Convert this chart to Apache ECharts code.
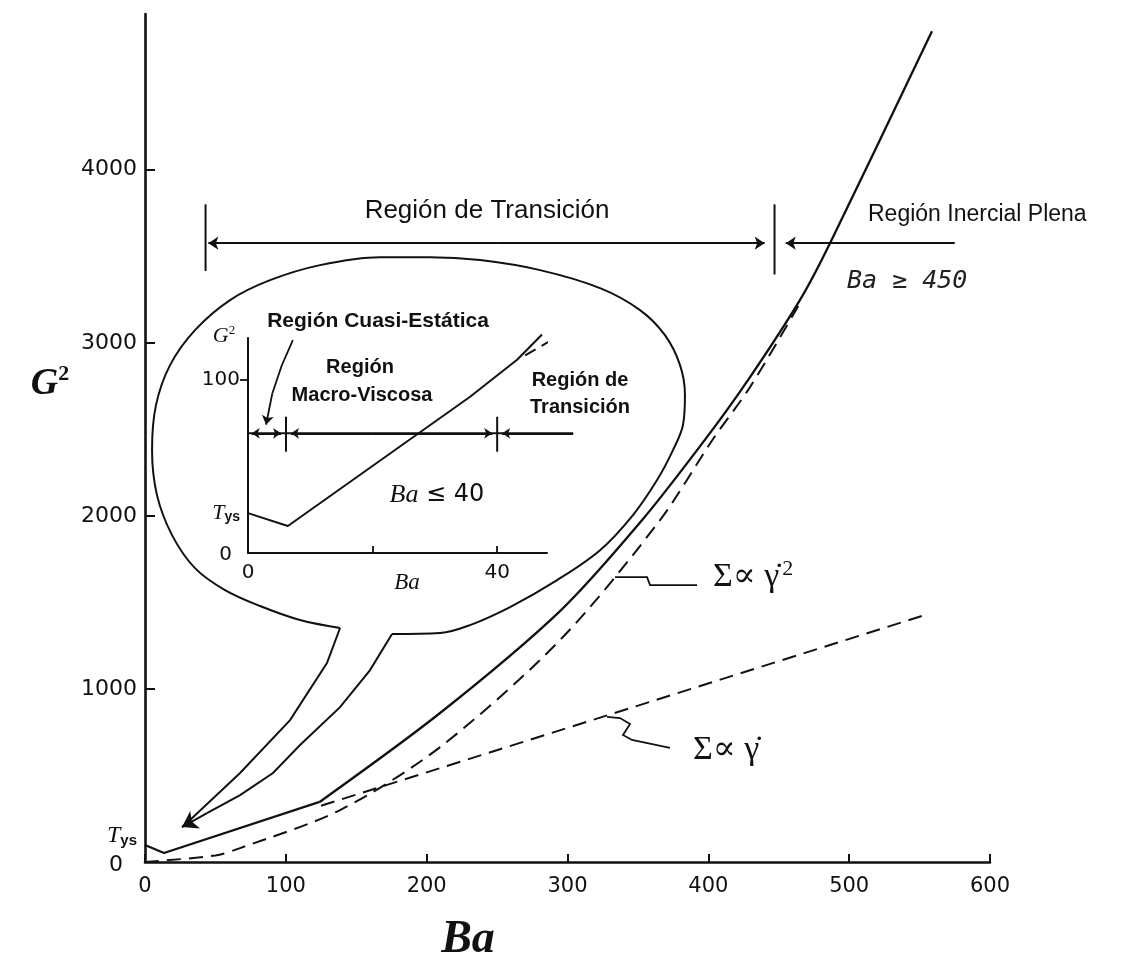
<!DOCTYPE html>
<html><head><meta charset="utf-8">
<script src="https://cdn.jsdelivr.net/npm/echarts@6/dist/echarts.min.js"></script>
<style>html,body{margin:0;padding:0;background:#fff}#c{width:1135px;height:968px}</style>
</head><body><div id="c"></div>
<script>
// ---------- main axes ----------
const xTickValues = [0, 100, 200, 300, 400, 500, 600];
const yTickValues = [1000, 2000, 3000, 4000];
const yLabelValues = [0, 150, 1000, 2000, 3000, 4000];   // 150 = position of the "Tys" label
// ---------- main curves (Ba, G²) ----------
const curveG2Start = [[0,98],[13.5,52],[124,347]];
const curveG2 = [[124,347],[209.5,861],[294.7,1450],[353,1976],[399,2455],[429.6,2802],[465,3247],[486.4,3576],[558.8,4801]];
const curveQuadratic = [[0,0],[50,38],[67.5,80],[138.5,300],[209.5,664],[295,1285],[365.7,1976],[403,2440],[429.6,2744],[465,3229]];
const curveLinear = [[125,325],[555,1430]];
// ---------- main region bar ----------
const regionY = 3576;
const regionArrows = [
  [[250,regionY],[45,regionY]],
  [[250,regionY],[440,regionY]],
  [[575,regionY],[455,regionY]]
];
const regionBarLeft = [[43,3800],[43,3415]];
const regionBarMid = [[447,3800],[447,3395]];
// ---------- speech bubble (Ba, G²) ----------
const bubbleBody = [[138.5,1352],[110.1,1398],[81.7,1479],[56.8,1571],[35.5,1698],[19.2,1889],[8.5,2120],[5.0,2380],[7.8,2640],[17.8,2871],[35.5,3073],[60.4,3247],[88.8,3362],[124.3,3449],[166.9,3495],[202.4,3495],[237.9,3478],[280.5,3420],[323.1,3316],[351.5,3189],[369.2,3044],[379.9,2871],[383.4,2698],[382.0,2525],[374.9,2380],[363.6,2207],[346.5,2005],[323.1,1802],[292.6,1629],[259.2,1473],[230.8,1369],[209.5,1323],[175.4,1317]];
const bubbleTailLeft = [[138.5,1352],[129.2,1150],[103.0,820],[67.5,514],[32.0,243],[26.3,202]];
const bubbleTailRight = [[175.4,1317],[159.8,1109],[138.5,895],[110.1,676],[90.9,514],[67.5,387],[44.0,283]];
const bubbleTip = [[44.0,283],[26.3,202]];
// ---------- leader lines for the Σ labels ----------
const leaderQuadratic = [[333.7,1646],[356.5,1646],[358.6,1600],[392.0,1600]];
const leaderLinear = [[328.1,838],[337.3,832],[344.4,797],[339.4,734],[345.8,705],[372.8,659]];
// ---------- inset (Ba 0–48, G² 0–124) ----------
const insetXLabels = [0, 40];
const insetXTicks = [20, 40];
const insetYLabels = [0, 23, 100];  // 23 = Tys
const insetYTicks = [100];
const insetCurve = [[0,23],[6.4,15.6],[35.6,90],[43.2,111.5],[47.2,126]];
const insetDashed = [[44.5,114],[55,136]];
const insetRegionY = 69;
const insetRegionLine = [[0,insetRegionY],[52.2,insetRegionY]];
const insetBar1 = [[6.1,58.4],[6.1,78.6]];
const insetBar2 = [[40,58.4],[40,78.6]];
const insetArrows = [
  [[3,insetRegionY],[0.6,insetRegionY]],
  [[3,insetRegionY],[5.3,insetRegionY]],
  [[20,insetRegionY],[6.9,insetRegionY]],
  [[20,insetRegionY],[39.2,insetRegionY]],
  [[52.2,insetRegionY],[40.8,insetRegionY]]
];
const insetLabelCurve = [[7.2,122.8],[5.4,108],[3.9,92]];
const insetLabelTip = [[3.9,92],[2.9,74]];

const INK = '#111';
const chart = echarts.init(document.getElementById('c'), null, {renderer:'canvas'});

function poly(coords, gi, w) {
  return {
    type:'lines', coordinateSystem:'cartesian2d', xAxisIndex:gi, yAxisIndex:gi,
    polyline:true, clip:false, silent:true, z:5, symbol:'none',
    lineStyle:{color:INK, width:w || 1.8, opacity:1, curveness:0},
    data:[{coords:coords}]
  };
}
function arrows(list, gi, w, size) {
  return {
    type:'lines', coordinateSystem:'cartesian2d', xAxisIndex:gi, yAxisIndex:gi,
    polyline:false, clip:false, silent:true, z:6,
    symbol:['none','arrow'], symbolSize:size || 10,
    lineStyle:{color:INK, width:w || 1.8, opacity:1, curveness:0},
    itemStyle:{color:INK},
    data:list.map(function(c){ return {coords:c}; })
  };
}
function line(data, gi, opts) {
  return Object.assign({
    type:'line', xAxisIndex:gi, yAxisIndex:gi, data:data, symbol:'none', showSymbol:false,
    clip:false, silent:true, z:4, animation:false,
    lineStyle:{color:INK, width:2, type:'solid'}
  }, opts || {});
}

const option = {
  animation:false,
  backgroundColor:'#fff',
  grid:[
    {left:145, top:14, width:845, height:848},
    {left:248, top:338, width:299, height:215}
  ],
  xAxis:[
    {gridIndex:0, type:'value', min:0, max:600, interval:100,
     axisLine:{show:true, lineStyle:{color:INK, width:2.6}},
     axisTick:{show:true, inside:true, length:8, customValues:xTickValues, lineStyle:{color:INK, width:2}},
     axisLabel:{show:true, margin:14, color:INK, fontFamily:'DejaVu Sans', fontSize:21, customValues:xTickValues},
     splitLine:{show:false}},
    {gridIndex:1, type:'value', min:0, max:48,
     axisLine:{show:true, lineStyle:{color:INK, width:2}},
     axisTick:{show:true, inside:true, length:7, customValues:insetXTicks, lineStyle:{color:INK, width:1.8}},
     axisLabel:{show:true, margin:10, color:INK, fontFamily:'DejaVu Sans', fontSize:20, customValues:insetXLabels},
     splitLine:{show:false}}
  ],
  yAxis:[
    {gridIndex:0, type:'value', min:0, max:4900,
     axisLine:{show:true, lineStyle:{color:INK, width:2.6}},
     axisTick:{show:true, inside:true, length:10, customValues:yTickValues, lineStyle:{color:INK, width:2}},
     axisLabel:{show:true, margin:8, color:INK, fontFamily:'DejaVu Sans', fontSize:22, customValues:yLabelValues,
       formatter:function(v){ if(v===150) return '{t|T}{s|ys}'; if(v===0) return '{z|0}'; return String(v); },
       rich:{
         t:{fontFamily:'Liberation Serif', fontStyle:'italic', fontSize:24, color:INK},
         s:{fontFamily:'Liberation Sans', fontWeight:'bold', fontSize:15, color:INK, verticalAlign:'bottom', padding:[8,0,0,0]},
         z:{fontFamily:'DejaVu Sans', fontSize:22, color:INK, padding:[6,14,0,0]}
       }},
     splitLine:{show:false}},
    {gridIndex:1, type:'value', min:0, max:124,
     axisLine:{show:true, lineStyle:{color:INK, width:2}},
     axisTick:{show:true, inside:false, length:8, customValues:insetYTicks, lineStyle:{color:INK, width:1.8}},
     axisLabel:{show:true, margin:8, color:INK, fontFamily:'DejaVu Sans', fontSize:20, customValues:insetYLabels,
       formatter:function(v){ if(v===23) return '{t|T}{s|ys}'; if(v===0) return '{z|0}'; return String(v); },
       rich:{
         t:{fontFamily:'Liberation Serif', fontStyle:'italic', fontSize:22, color:INK},
         s:{fontFamily:'Liberation Sans', fontWeight:'bold', fontSize:14, color:INK, verticalAlign:'bottom', padding:[8,0,0,0]},
         z:{fontFamily:'DejaVu Sans', fontSize:20, color:INK, padding:[4,8,0,0]}
       }},
     splitLine:{show:false}}
  ],
  series:[
    line(curveG2Start, 0, {lineStyle:{color:INK, width:2.3}}),
    line(curveG2, 0, {smooth:0.3, lineStyle:{color:INK, width:2.3}}),
    line(curveQuadratic, 0, {smooth:0.3, lineStyle:{color:INK, width:2, type:[14,8]}}),
    line(curveLinear, 0, {lineStyle:{color:INK, width:2, type:[14,8]}}),
    line(bubbleBody, 0, {smooth:0.35, lineStyle:{color:INK, width:2}}),
    poly(bubbleTailLeft, 0, 2),
    poly(bubbleTailRight, 0, 2),
    arrows([bubbleTip], 0, 2, 15),
    poly(leaderQuadratic, 0, 1.8),
    poly(leaderLinear, 0, 1.8),
    arrows(regionArrows, 0, 2, 10),
    poly(regionBarLeft, 0, 2),
    poly(regionBarMid, 0, 2),
    line(insetCurve, 1, {lineStyle:{color:INK, width:2}}),
    line(insetDashed, 1, {lineStyle:{color:INK, width:2, type:[12,7]}}),
    poly(insetRegionLine, 1, 2),
    poly(insetBar1, 1, 2),
    poly(insetBar2, 1, 2),
    arrows(insetArrows, 1, 2, 8),
    poly(insetLabelCurve, 1, 1.8),
    arrows([insetLabelTip], 1, 1.8, 9)
  ],
  graphic:[
    {type:'text', x:50, y:384, style:{text:'{g|G}{s|2}', fill:INK, align:'center', verticalAlign:'middle', textAlign:'center', textVerticalAlign:'middle',
      rich:{g:{fontFamily:'Liberation Serif', fontStyle:'italic', fontWeight:'bold', fontSize:38, lineHeight:42, fill:INK},
            s:{fontFamily:'Liberation Serif', fontWeight:'bold', fontSize:22, verticalAlign:'top', fill:INK}}}},
    {type:'text', x:468, y:940, style:{text:'Ba', fill:INK, font:'italic bold 46px "Liberation Serif"', align:'center', verticalAlign:'middle', textAlign:'center', textVerticalAlign:'middle'}},
    {type:'text', x:487, y:211, style:{text:'Región de Transición', fill:INK, font:'26px "Liberation Sans"', align:'center', verticalAlign:'middle', textAlign:'center', textVerticalAlign:'middle'}},
    {type:'text', x:868, y:215, style:{text:'Región Inercial Plena', fill:INK, font:'23px "Liberation Sans"', align:'left', verticalAlign:'middle', textAlign:'left', textVerticalAlign:'middle'}},
    {type:'text', x:847, y:281, style:{text:'Ba ≥ 450', fill:'#222', font:'italic 25px "DejaVu Sans Mono"', align:'left', verticalAlign:'middle', textAlign:'left', textVerticalAlign:'middle'}},
    {type:'text', x:378, y:321, style:{text:'Región Cuasi-Estática', fill:INK, font:'bold 21px "Liberation Sans"', align:'center', verticalAlign:'middle', textAlign:'center', textVerticalAlign:'middle'}},
    {type:'text', x:360, y:367, style:{text:'Región', fill:INK, font:'bold 20px "Liberation Sans"', align:'center', verticalAlign:'middle', textAlign:'center', textVerticalAlign:'middle'}},
    {type:'text', x:362, y:395, style:{text:'Macro-Viscosa', fill:INK, font:'bold 20px "Liberation Sans"', align:'center', verticalAlign:'middle', textAlign:'center', textVerticalAlign:'middle'}},
    {type:'text', x:580, y:380, style:{text:'Región de', fill:INK, font:'bold 20px "Liberation Sans"', align:'center', verticalAlign:'middle', textAlign:'center', textVerticalAlign:'middle'}},
    {type:'text', x:580, y:407, style:{text:'Transición', fill:INK, font:'bold 20px "Liberation Sans"', align:'center', verticalAlign:'middle', textAlign:'center', textVerticalAlign:'middle'}},
    {type:'text', x:437, y:495, style:{text:'{i|Ba} ≤ 40', fill:INK, font:'24px "DejaVu Sans"', align:'center', verticalAlign:'middle', textAlign:'center', textVerticalAlign:'middle',
      rich:{i:{fontFamily:'Liberation Serif', fontStyle:'italic', fontSize:26, fill:INK}}}},
    {type:'text', x:224, y:336, style:{text:'{g|G}{s|2}', fill:INK, align:'center', verticalAlign:'middle', textAlign:'center', textVerticalAlign:'middle',
      rich:{g:{fontFamily:'Liberation Serif', fontStyle:'italic', fontSize:22, lineHeight:24, fill:INK},
            s:{fontFamily:'Liberation Serif', fontSize:13, verticalAlign:'top', fill:INK}}}},
    {type:'text', x:407, y:583, style:{text:'Ba', fill:INK, font:'italic 23px "Liberation Serif"', align:'center', verticalAlign:'middle', textAlign:'center', textVerticalAlign:'middle'}},
    {type:'text', x:713, y:577, style:{text:'{m|Σ∝ γ̇}{s|2}', fill:INK, align:'left', verticalAlign:'middle', textAlign:'left', textVerticalAlign:'middle',
      rich:{m:{fontFamily:'Liberation Serif, DejaVu Serif', fontSize:34, lineHeight:38, fill:INK},
            s:{fontFamily:'Liberation Serif', fontSize:22, verticalAlign:'top', fill:INK, padding:[0,0,0,3]}}}},
    {type:'text', x:693, y:750, style:{text:'Σ∝ γ̇', fill:INK, font:'34px "Liberation Serif", "DejaVu Serif"', align:'left', verticalAlign:'middle', textAlign:'left', textVerticalAlign:'middle'}}
  ]
};
chart.setOption(option);
</script></body></html>
